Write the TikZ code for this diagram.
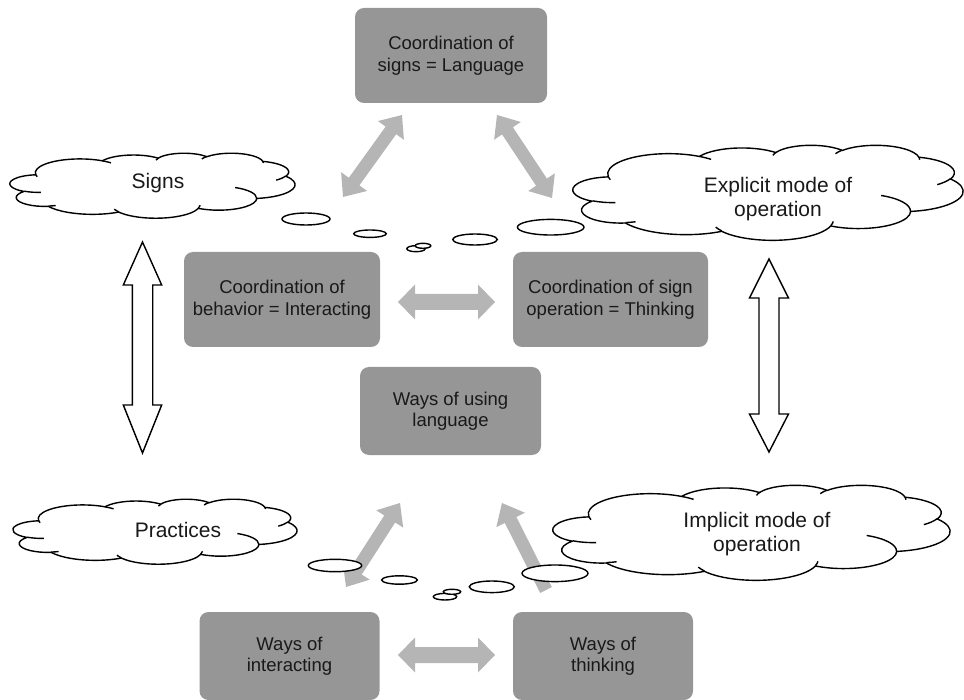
\documentclass[tikz,border=0pt]{standalone}
\usepackage{fontspec}
\setmainfont{Liberation Sans}
\usetikzlibrary{calc}
\definecolor{boxgray}{RGB}{150,150,150}
\definecolor{arrgray}{RGB}{181,181,181}
\definecolor{inkdark}{RGB}{25,25,25}

% ---- Office-style cloud -------------------------------------------------
\newcommand\ccpt[2]{\pgfpointadd{\pgfpoint{\cldx pt}{-\cldy pt}}{\pgfpointxy{#1}{#2}}}
\newcommand\cloudarc[4]{%
  \edef\cA{\fpeval{(#3)/60000}}%
  \edef\cB{\fpeval{((#3)+(#4))/60000}}%
  \edef\cPA{\fpeval{round((\cA)+(atand((#1)*sind(\cA),(#2)*cosd(\cA))-(\cA))-360*round((atand((#1)*sind(\cA),(#2)*cosd(\cA))-(\cA))/360),4)}}%
  \edef\cPB{\fpeval{round((\cB)+(atand((#1)*sind(\cB),(#2)*cosd(\cB))-(\cB))-360*round((atand((#1)*sind(\cB),(#2)*cosd(\cB))-(\cB))/360),4)}}%
  \edef\cRX{\fpeval{(#1)/100}}\edef\cRY{\fpeval{(#2)/100}}%
  \pgfpatharcaxes{\cPA}{\cPB}{\pgfpointxy{\cRX}{0}}{\pgfpointxy{0}{\cRY}}%
}
\newcommand\officecloud[4]{%
  \begin{pgfscope}
  \def\cldx{#1}\def\cldy{#2}%
  \pgfsetxvec{\pgfpoint{#3pt/432}{0pt}}%
  \pgfsetyvec{\pgfpoint{0pt}{-#4pt/432}}%
  \pgfsetlinewidth{1.4pt}\pgfsetroundjoin
  \pgfsetfillcolor{white}\pgfsetstrokecolor{black}%
  \pgfpathmoveto{\ccpt{39.00}{143.70}}%
  \cloudarc{6753}{9190}{-11429249}{7426832}%
  \cloudarc{5333}{7267}{-8646143}{5396714}%
  \cloudarc{4365}{5945}{-8748475}{5983381}%
  \cloudarc{4857}{6595}{-7859164}{7034504}%
  \cloudarc{5333}{7273}{-4722533}{6541615}%
  \cloudarc{6775}{9220}{-2776035}{7816140}%
  \cloudarc{5785}{7867}{37501}{6842000}%
  \cloudarc{6752}{9215}{1347096}{6910353}%
  \cloudarc{7720}{10543}{3974558}{4542661}%
  \cloudarc{4360}{5918}{-16496525}{8804134}%
  \cloudarc{4345}{5945}{-14809710}{9151131}%
  \pgfpathclose
  \pgfusepath{fill,stroke}%
  \pgfpathmoveto{\ccpt{46.93}{261.77}}\cloudarc{4345}{5945}{5204520}{1585770}%
  \pgfpathmoveto{\ccpt{69.28}{348.99}}\cloudarc{4360}{5918}{4416628}{686848}%
  \pgfpathmoveto{\ccpt{164.78}{390.90}}\cloudarc{6752}{9215}{8257449}{844866}%
  \pgfpathmoveto{\ccpt{288.27}{347.51}}\cloudarc{6752}{9215}{387196}{959901}%
  \pgfpathmoveto{\ccpt{341.29}{229.54}}\cloudarc{5785}{7867}{-4217541}{4255042}%
  \pgfpathmoveto{\ccpt{417.98}{153.54}}\cloudarc{5333}{7273}{1819082}{1665090}%
  \pgfpathmoveto{\ccpt{383.24}{54.26}}\cloudarc{4857}{6595}{-824660}{891534}%
  \pgfpathmoveto{\ccpt{290.78}{39.52}}\cloudarc{4857}{6595}{-8950887}{1091722}%
  \pgfpathmoveto{\ccpt{221.41}{47.20}}\cloudarc{4365}{5945}{-9809656}{1061181}%
  \pgfpathmoveto{\ccpt{140.00}{51.92}}\cloudarc{6753}{9190}{-4002417}{739161}%
  \pgfpathmoveto{\ccpt{41.27}{157.89}}\cloudarc{6753}{9190}{9459261}{711490}%
  \pgfusepath{stroke}%
  \end{pgfscope}%
}

% ---- thick gray arrows ----------------------------------------------------
% #1 start, #2 end, #3 shaft half width, #4 head half width, #5 head length
\newcommand\dblgray[5]{%
  \coordinate (gA) at (#1); \coordinate (gB) at (#2);
  \coordinate (gPA) at ($(gA)!#5pt!(gB)$);
  \coordinate (gPB) at ($(gB)!#5pt!(gA)$);
  \fill[arrgray] (gA) -- ($(gPA)!#4pt!90:(gB)$) -- ($(gPA)!#3pt!90:(gB)$)
    -- ($(gPB)!#3pt!-90:(gA)$) -- ($(gPB)!#4pt!-90:(gA)$) -- (gB)
    -- ($(gPB)!#4pt!90:(gA)$) -- ($(gPB)!#3pt!90:(gA)$)
    -- ($(gPA)!#3pt!-90:(gB)$) -- ($(gPA)!#4pt!-90:(gB)$) -- cycle;
}
% #1 tail, #2 tip
\newcommand\sglgray[5]{%
  \coordinate (gA) at (#1); \coordinate (gB) at (#2);
  \coordinate (gPB) at ($(gB)!#5pt!(gA)$);
  \fill[arrgray] ($(gA)!#3pt!90:(gB)$) -- ($(gPB)!#3pt!-90:(gA)$)
    -- ($(gPB)!#4pt!-90:(gA)$) -- (gB) -- ($(gPB)!#4pt!90:(gA)$)
    -- ($(gPB)!#3pt!90:(gA)$) -- ($(gA)!#3pt!-90:(gB)$) -- cycle;
}

\begin{document}
\begin{tikzpicture}[x=1pt,y=-1pt,
  gbox/.style={fill=boxgray, rounded corners=9pt, align=center, text=inkdark,
    font=\fontsize{18.5}{21.5}\selectfont, inner sep=0pt},
  cloudtext/.style={align=center, text=inkdark, font=\fontsize{21}{24}\selectfont, inner sep=0pt},
  bubble/.style={draw=black, fill=white, line width=1.4pt},
  outarrow/.style={draw=black, fill=white, line width=1.4pt, line join=miter}]

\useasboundingbox (0,0) rectangle (964,700);

% boxes
\node[gbox, minimum width=192pt, minimum height=95pt] (lang) at (451,55.5) {Coordination of\\signs = Language};
\node[gbox, minimum width=196pt, minimum height=95pt] (inter) at (282,299.5) {Coordination of\\behavior = Interacting};
\node[gbox, minimum width=195pt, minimum height=95pt] (think) at (610.5,299.5) {Coordination of sign\\operation = Thinking};
\node[gbox, minimum width=181pt, minimum height=88pt] (using) at (450.5,411) {Ways of using\\language};
\node[gbox, minimum width=180pt, minimum height=88pt] (winter) at (289.5,656) {Ways of\\interacting};
\node[gbox, minimum width=180pt, minimum height=88pt] (wthink) at (603,656) {Ways of\\thinking};

% gray arrows
\coordinate (a1s) at (343,197); \coordinate (a1e) at (402,115);
\coordinate (a2s) at (552,198); \coordinate (a2e) at (497,115);
\coordinate (a3s) at (398,302); \coordinate (a3e) at (495,302);
\coordinate (a4s) at (398,655); \coordinate (a4e) at (495,655);
\coordinate (a5s) at (346,587); \coordinate (a5e) at (400,503);
\coordinate (a6s) at (546,590); \coordinate (a6e) at (502,503);
\dblgray{a1s}{a1e}{6.5}{16}{19}
\dblgray{a2s}{a2e}{6.5}{16}{19}
\dblgray{a3s}{a3e}{8}{17.5}{17}
\dblgray{a4s}{a4e}{8}{17.5}{17}
\dblgray{a5s}{a5e}{6.5}{16}{19}
\sglgray{a6s}{a6e}{6.5}{16}{19}

% outline double arrows
\draw[outarrow] (142.5,242) -- (161.7,285) -- (152.7,285) -- (152.7,405) -- (161.7,405)
  -- (142.5,453) -- (123.3,405) -- (132.3,405) -- (132.3,285) -- (123.3,285) -- cycle;
\draw[outarrow] (769,259) -- (788.5,298) -- (779,298) -- (779,414) -- (788.5,414)
  -- (769,452) -- (749.5,414) -- (759,414) -- (759,298) -- (749.5,298) -- cycle;

% clouds
\officecloud{10}{153}{285}{65}
\officecloud{573}{145}{390}{95}
\officecloud{13}{499}{284}{65}
\officecloud{553}{485}{397}{95}
\node[cloudtext] (signs) at (158,183) {Signs};
\node[cloudtext] (explicit) at (778,199) {Explicit mode of\\operation};
\node[cloudtext] (practices) at (178,530) {Practices};
\node[cloudtext] (implicit) at (757,534) {Implicit mode of\\operation};

% thought bubbles (upper)
\draw[bubble] (306,219) ellipse [x radius=24, y radius=6];
\draw[bubble] (370,233.7) ellipse [x radius=16.3, y radius=3.7];
\draw[bubble] (416,248.7) ellipse [x radius=9.2, y radius=3];
\draw[bubble] (423,245.8) ellipse [x radius=7.8, y radius=2.5];
\draw[bubble] (475,239.5) ellipse [x radius=22.3, y radius=5.5];
\draw[bubble] (550.7,227.2) ellipse [x radius=33.3, y radius=7.8];
% thought bubbles (lower)
\draw[bubble] (335,565.5) ellipse [x radius=26.7, y radius=6.2];
\draw[bubble] (399.5,580) ellipse [x radius=17.8, y radius=4.2];
\draw[bubble] (445,596.7) ellipse [x radius=11.7, y radius=3.3];
\draw[bubble] (452,591.8) ellipse [x radius=8.7, y radius=2.5];
\draw[bubble] (491.8,586.8) ellipse [x radius=22.5, y radius=5.8];
\draw[bubble] (555,573.3) ellipse [x radius=33, y radius=8.3];
\end{tikzpicture}
\end{document}
